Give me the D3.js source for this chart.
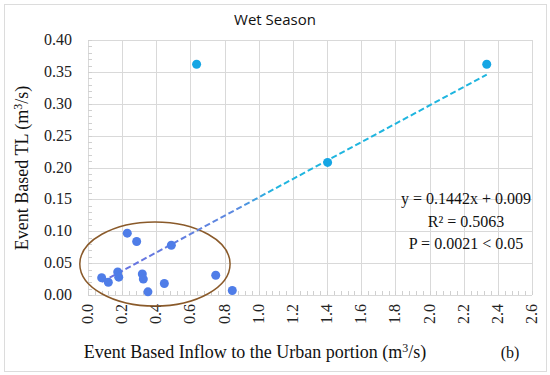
<!DOCTYPE html>
<html>
<head>
  <meta charset="utf-8">
  <style>
    body { margin: 0; background: #fff; }
    .grid line { stroke: #d9d9d9; stroke-width: 1; }
    .tick-label { font-family: "Liberation Serif", serif; font-size: 16px; fill: #222; }
    .axis-title { font-family: "Liberation Serif", serif; font-size: 18px; fill: #111; }
    .eq { font-family: "Liberation Serif", serif; font-size: 16px; fill: #111; }
  </style>
</head>
<body>
  <svg width="550" height="375"></svg>
  <script src="https://cdn.jsdelivr.net/npm/d3@7"></script>
  <script>
    // inflow (m3/s) and transmission loss (m3/s)
    const inflow = [0.08, 0.119, 0.174, 0.18, 0.23, 0.285, 0.318, 0.324, 0.351, 0.447, 0.488, 0.748, 0.845, 0.636, 1.403, 2.335];
    const tl     = [0.027, 0.020, 0.036, 0.028, 0.097, 0.084, 0.033, 0.025, 0.005, 0.018, 0.078, 0.031, 0.007, 0.362, 0.208, 0.362];
    const inCluster = [1, 1, 1, 1, 1, 1, 1, 1, 1, 1, 1, 1, 1, 0, 0, 0];

    const xTicks = [0, 0.2, 0.4, 0.6, 0.8, 1.0, 1.2, 1.4, 1.6, 1.8, 2.0, 2.2, 2.4, 2.6];
    const yTicks = [0, 0.05, 0.10, 0.15, 0.20, 0.25, 0.30, 0.35, 0.40];

    const slope = 0.1442, intercept = 0.009;
    const eqLines = ["y = 0.1442x + 0.009", "R² = 0.5063", "P = 0.0021 < 0.05"];

    const svg = d3.select("svg");
    const x = d3.scaleLinear().domain([0, 2.6]).range([88, 532]);
    const y = d3.scaleLinear().domain([0, 0.4]).range([295, 40]);

    // outer frame
    svg.append("rect")
      .attr("x", 4.5).attr("y", 4.5).attr("width", 542).attr("height", 367)
      .attr("fill", "none").attr("stroke", "#dcdcdc");

    // grid
    const grid = svg.append("g").attr("class", "grid");
    grid.selectAll(".v").data(xTicks).enter().append("line")
      .attr("x1", d => Math.round(x(d)) + 0.5).attr("x2", d => Math.round(x(d)) + 0.5)
      .attr("y1", y(0.4)).attr("y2", y(0));
    grid.selectAll(".h").data(yTicks).enter().append("line")
      .attr("y1", d => Math.round(y(d)) + 0.5).attr("y2", d => Math.round(y(d)) + 0.5)
      .attr("x1", x(0)).attr("x2", x(2.6));

    // minor ticks
    const xMinor = d3.range(0, 2.6001, 0.04);
    svg.append("g").selectAll("line").data(xMinor).enter().append("line")
      .attr("x1", d => Math.round(x(d)) + 0.5).attr("x2", d => Math.round(x(d)) + 0.5)
      .attr("y1", y(0)).attr("y2", y(0) - 4)
      .attr("stroke", "#d0d0d0");
    const yMinor = d3.range(0, 0.4001, 0.01);
    svg.append("g").selectAll("line").data(yMinor).enter().append("line")
      .attr("y1", d => Math.round(y(d)) + 0.5).attr("y2", d => Math.round(y(d)) + 0.5)
      .attr("x1", x(0)).attr("x2", x(0) + 4)
      .attr("stroke", "#d0d0d0");

    // tick labels
    svg.append("g").selectAll("text").data(yTicks).enter().append("text")
      .attr("class", "tick-label")
      .attr("x", 72).attr("y", d => y(d) + 5)
      .attr("text-anchor", "end")
      .text(d => d.toFixed(2));
    svg.append("g").selectAll("text").data(xTicks).enter().append("text")
      .attr("class", "tick-label")
      .attr("transform", d => `translate(${x(d) + 5},304) rotate(-90)`)
      .attr("text-anchor", "end")
      .text(d => d.toFixed(1));

    // highlight ellipse around the cluster
    svg.append("ellipse")
      .attr("cx", x(0.392)).attr("cy", y(0.0486))
      .attr("rx", x(0.44) - x(0)).attr("ry", y(0) - y(0.066))
      .attr("fill", "none").attr("stroke", "#8a5a2a").attr("stroke-width", 1.5);

    // trend line
    const defs = svg.append("defs");
    const grad = defs.append("linearGradient").attr("id", "tg")
      .attr("gradientUnits", "userSpaceOnUse")
      .attr("x1", x(0.08)).attr("x2", x(2.335)).attr("y1", 0).attr("y2", 0);
    grad.append("stop").attr("offset", "0%").attr("stop-color", "#6a6ee0");
    grad.append("stop").attr("offset", "35%").attr("stop-color", "#5c8ae0");
    grad.append("stop").attr("offset", "45%").attr("stop-color", "#1fb5df");
    grad.append("stop").attr("offset", "100%").attr("stop-color", "#1fb5df");
    const x0 = d3.min(inflow), x1 = d3.max(inflow);
    svg.append("line")
      .attr("x1", x(x0)).attr("y1", y(slope * x0 + intercept))
      .attr("x2", x(x1)).attr("y2", y(slope * x1 + intercept))
      .attr("stroke", "url(#tg)").attr("stroke-width", 2)
      .attr("stroke-dasharray", "6,3");

    // points
    svg.append("g").selectAll("circle").data(inflow).enter().append("circle")
      .attr("cx", d => x(d))
      .attr("cy", (d, i) => y(tl[i]))
      .attr("r", 4.5)
      .attr("fill", (d, i) => inCluster[i] ? "#4f7de8" : "#16a6e4");

    // equation
    svg.append("g").selectAll("text").data(eqLines).enter().append("text")
      .attr("class", "eq")
      .attr("x", 466).attr("y", (d, i) => 204 + i * 22.5)
      .attr("text-anchor", "middle")
      .text(d => d);

    // titles
    svg.append("text")
      .attr("x", 275).attr("y", 25)
      .attr("text-anchor", "middle")
      .style("font-family", "'Open Sans', sans-serif").style("font-size", "15px").style("fill", "#111")
      .text("Wet Season");

    const xt = svg.append("text").attr("class", "axis-title")
      .attr("x", 255).attr("y", 358).attr("text-anchor", "middle");
    xt.append("tspan").text("Event Based Inflow to the Urban portion (m");
    xt.append("tspan").attr("dy", -6).style("font-size", "12px").text("3");
    xt.append("tspan").attr("dy", 6).text("/s)");

    const yt = svg.append("text").attr("class", "axis-title")
      .attr("transform", "translate(28,168) rotate(-90)").attr("text-anchor", "middle");
    yt.append("tspan").text("Event Based TL (m");
    yt.append("tspan").attr("dy", -6).style("font-size", "12px").text("3");
    yt.append("tspan").attr("dy", 6).text("/s)");

    svg.append("text").attr("class", "axis-title")
      .attr("x", 510).attr("y", 358).attr("text-anchor", "middle")
      .style("font-size", "16px")
      .text("(b)");
  </script>
</body>
</html>
